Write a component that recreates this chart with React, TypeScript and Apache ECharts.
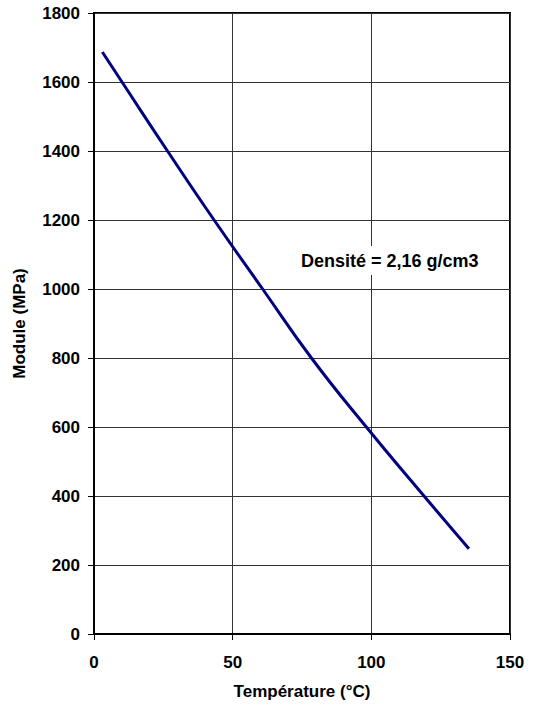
import React, { useEffect, useRef } from "react";
import * as echarts from "echarts";

const temperatures = [3, 10.1, 26.5, 43.3, 60.8, 78.4, 98.2, 119, 135.2];
const modulus = [1687, 1600, 1400, 1200, 1000, 800, 600, 400, 247];
const xTitle = "Température (°C)";
const yTitle = "Module (MPa)";
const note = "Densité = 2,16 g/cm3";

export default function App() {
  const ref = useRef<HTMLDivElement>(null);
  useEffect(() => {
    const chart = echarts.init(ref.current!, null, { renderer: "svg" });
    const font = "'Liberation Sans', Arial, sans-serif";
    chart.setOption({
      animation: false,
      backgroundColor: "#ffffff",
      grid: {
        left: 94,
        top: 13,
        width: 416,
        height: 621,
        containLabel: false,
        outerBoundsMode: "none",
        show: true,
        borderColor: "#000",
        borderWidth: 2,
        backgroundColor: "transparent",
      },
      xAxis: {
        type: "value",
        min: 0,
        max: 150,
        interval: 50,
        name: xTitle,
        nameLocation: "middle",
        nameGap: 49,
        nameTextStyle: { fontFamily: font, fontWeight: "bold", fontSize: 17, color: "#000" },
        axisLine: { show: true, lineStyle: { color: "#000", width: 2 } },
        axisTick: { show: true, length: 6, lineStyle: { color: "#000", width: 1 } },
        axisLabel: {
          fontFamily: font,
          fontWeight: "bold",
          fontSize: 17,
          color: "#000",
          margin: 20,
          formatter: (v: number) => String(v),
        },
        splitLine: { show: true, lineStyle: { color: "#333", width: 1 } },
      },
      yAxis: {
        type: "value",
        min: 0,
        max: 1800,
        interval: 200,
        name: yTitle,
        nameLocation: "middle",
        nameGap: 66,
        nameTextStyle: { fontFamily: font, fontWeight: "bold", fontSize: 17, color: "#000" },
        axisLine: { show: true, lineStyle: { color: "#000", width: 2 } },
        axisTick: { show: true, length: 6, lineStyle: { color: "#000", width: 1 } },
        axisLabel: {
          fontFamily: font,
          fontWeight: "bold",
          fontSize: 17,
          color: "#000",
          margin: 14,
          formatter: (v: number) => String(v),
        },
        splitLine: { show: true, lineStyle: { color: "#333", width: 1 } },
      },
      graphic: [
        {
          type: "rect",
          left: 298,
          top: 246,
          shape: { width: 184, height: 29 },
          style: { fill: "#fff" },
          z: 100,
        },
        {
          type: "text",
          left: 301,
          top: 252,
          style: {
            text: note,
            fill: "#000",
            font: `bold 18px ${font}`,
          },
          z: 101,
        },
      ],
      series: [
        {
          type: "line",
          data: temperatures.map((t, i) => [t, modulus[i]]),
          smooth: true,
          showSymbol: false,
          symbol: "none",
          lineStyle: { color: "#000080", width: 3 },
        },
      ],
    });
    return () => chart.dispose();
  }, []);
  return (
    <div
      ref={ref}
      style={{ position: "fixed", left: 0, top: 0, width: 536, height: 705 }}
    />
  );
}
